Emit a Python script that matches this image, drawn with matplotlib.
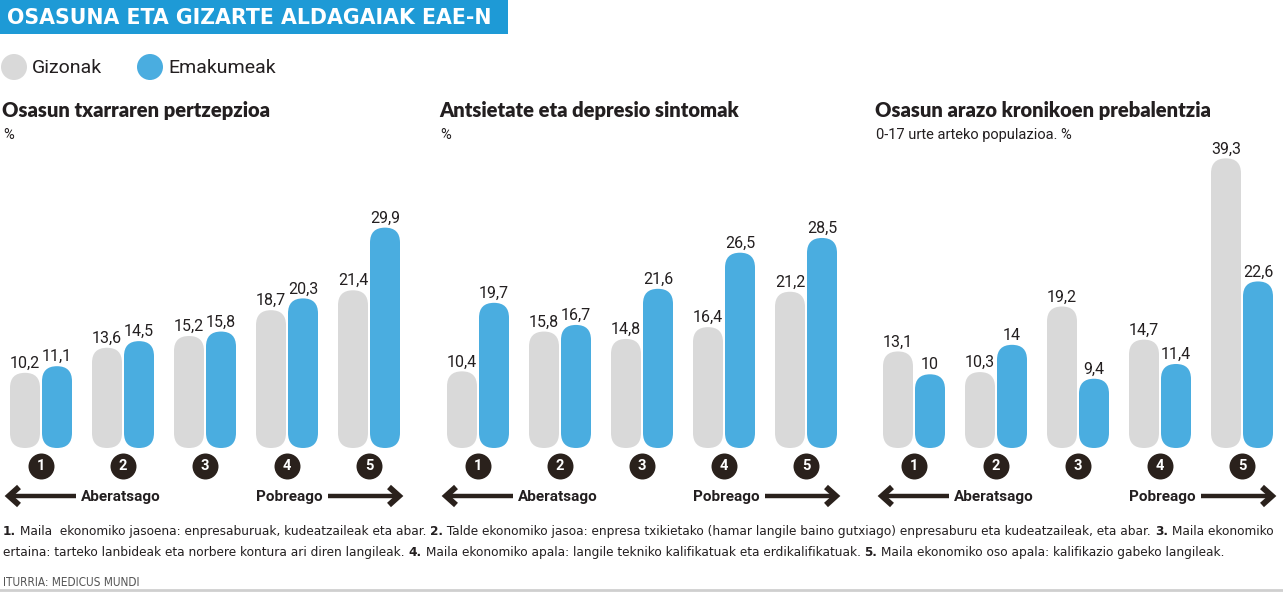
import matplotlib
matplotlib.use('Agg')
import matplotlib.pyplot as plt
from matplotlib.patches import FancyBboxPatch, Rectangle, Circle
from matplotlib import font_manager as fm

# ---------------- data ----------------
title = 'OSASUNA ETA GIZARTE ALDAGAIAK EAE-N'
series_names = ['Gizonak', 'Emakumeak']
categories = ['1', '2', '3', '4', '5']
panel_titles = ['Osasun txarraren pertzepzioa',
                'Antsietate eta depresio sintomak',
                'Osasun arazo kronikoen prebalentzia']
panel_subtitles = ['%', '%', '0-17 urte arteko populazioa. %']
gizonak_1 = [10.2, 13.6, 15.2, 18.7, 21.4]
emakumeak_1 = [11.1, 14.5, 15.8, 20.3, 29.9]
gizonak_2 = [10.4, 15.8, 14.8, 16.4, 21.2]
emakumeak_2 = [19.7, 16.7, 21.6, 26.5, 28.5]
gizonak_3 = [13.1, 10.3, 19.2, 14.7, 39.3]
emakumeak_3 = [10, 14, 9.4, 11.4, 22.6]
arrow_labels = ['Aberatsago', 'Pobreago']
footnote_1 = [('1.', True), (' Maila  ekonomiko jasoena: enpresaburuak, kudeatzaileak eta abar. ', False),
              ('2.', True), (' Talde ekonomiko jasoa: enpresa txikietako (hamar langile baino gutxiago) enpresaburu eta kudeatzaileak, eta abar. ', False),
              ('3.', True), (' Maila ekonomiko', False)]
footnote_2 = [('ertaina: tarteko lanbideak eta norbere kontura ari diren langileak. ', False),
              ('4.', True), (' Maila ekonomiko apala: langile tekniko kalifikatuak eta erdikalifikatuak. ', False),
              ('5.', True), (' Maila ekonomiko oso apala: kalifikazio gabeko langileak.', False)]
source = 'ITURRIA: MEDICUS MUNDI'

GREY = '#d9d9d9'
BLUE = '#4aade0'
DARK = '#2a211c'
TITLEBLUE = '#1e9ad6'
TXT = '#231f20'


def has_font(name):
    try:
        fm.findfont(fm.FontProperties(family=name), fallback_to_default=False)
        return True
    except Exception:
        return False

NARROW = 'Liberation Sans Narrow' if has_font('Liberation Sans Narrow') else 'DejaVu Sans'
NSTRETCH = 'normal' if NARROW == 'Liberation Sans Narrow' else 'condensed'

W, H = 1283, 592
fig = plt.figure(figsize=(W / 100, H / 100), dpi=100)
fig.patch.set_facecolor('white')

# overlay axes in pixel coordinates for layout decorations
lay = fig.add_axes([0, 0, 1, 1])
lay.set_xlim(0, W)
lay.set_ylim(H, 0)
lay.axis('off')

# title box
lay.add_patch(Rectangle((0, 0), 508, 34, color=TITLEBLUE, lw=0))
lay.text(7, 18, title, color='white', fontsize=14.8, fontweight='bold',
         family='DejaVu Sans', va='center', ha='left')

# legend
for cx, col, name in [(14, GREY, series_names[0]), (150, BLUE, series_names[1])]:
    lay.add_patch(Circle((cx, 67), 13, color=col, lw=0))
    lay.text(cx + 18, 68, name, fontsize=14, family='Roboto', color=TXT,
             va='center', ha='left')

panels = [(gizonak_1, emakumeak_1), (gizonak_2, emakumeak_2), (gizonak_3, emakumeak_3)]
lefts = [0, 437, 873]
AX_TOP, AX_H, AX_W = 148, 300, 410
PX_PER_UNIT = 7.37
YMAX = AX_H / PX_PER_UNIT
xpx = AX_W / len(categories)
aspect = xpx / PX_PER_UNIT
bw = 30 / xpx
off = 16 / xpx


def fmt(v):
    return ('%g' % v).replace('.', ',')

for p, (g, e) in enumerate(panels):
    L = lefts[p]
    ax = fig.add_axes([L / W, 1 - (AX_TOP + AX_H) / H, AX_W / W, AX_H / H])
    ax.set_xlim(-0.5, len(categories) - 0.5)
    ax.set_ylim(0, YMAX)
    ax.axis('off')
    for i, cat in enumerate(categories):
        for vals, col, sgn in [(g, GREY, -1), (e, BLUE, 1)]:
            v = vals[i]
            x = i + sgn * off
            ax.add_patch(FancyBboxPatch((x - bw / 2, 0), bw, v,
                                        boxstyle='round,pad=0,rounding_size=%f' % (bw / 2),
                                        mutation_aspect=aspect, fc=col, ec='none'))
            ax.text(x, v + 5 / PX_PER_UNIT, fmt(v), ha='center', va='baseline',
                    fontsize=11.5, family='Roboto', color=TXT)
        ax.scatter([i], [-18 / PX_PER_UNIT], s=350, color=DARK, clip_on=False, lw=0)
        ax.text(i, -18.5 / PX_PER_UNIT, cat, color='white', fontsize=10.5, fontweight='bold',
                family='Roboto', ha='center', va='center', clip_on=False)

    # titles
    lay.text(L + 2, 110, panel_titles[p], fontsize=14.5, fontweight='heavy', family='Lato',
             color=TXT, va='center', ha='left')
    lay.text(L + 3, 135, panel_subtitles[p], fontsize=10.5, family='Roboto', color=TXT,
             va='center', ha='left')

    # arrows
    y = 496
    lay.plot([L + 10, L + 76], [y, y], color=DARK, lw=3.2, solid_capstyle='butt')
    lay.plot([L + 19, L + 9, L + 19], [y - 9, y, y + 9], color=DARK, lw=4.2,
             solid_joinstyle='miter', solid_capstyle='butt')
    lay.text(L + 81, y + 1, arrow_labels[0], fontsize=11, fontweight='semibold',
             family='Roboto', color=TXT, va='center', ha='left')
    lay.plot([L + 328, L + 398], [y, y], color=DARK, lw=3.2, solid_capstyle='butt')
    lay.plot([L + 389, L + 399, L + 389], [y - 9, y, y + 9], color=DARK, lw=4.2,
             solid_joinstyle='miter', solid_capstyle='butt')
    lay.text(L + 323, y + 1, arrow_labels[1], fontsize=11, fontweight='semibold',
             family='Roboto', color=TXT, va='center', ha='right')

# footnotes
fig.canvas.draw()
renderer = fig.canvas.get_renderer()


def rich_line(segments, x0, y, fs, draw=True):
    x = x0
    arts = []
    for s, bold in segments:
        t = lay.text(x, y, s, fontsize=fs, family=NARROW, fontstretch=NSTRETCH,
                     fontweight='bold' if bold else 'normal', color=TXT,
                     va='baseline', ha='left')
        bb = t.get_window_extent(renderer)
        x += bb.width
        arts.append(t)
    if not draw:
        for t in arts:
            t.remove()
    return x - x0

w1 = rich_line(footnote_1, 3, 535, 10, draw=False)
fs = min(10.5, 10 * 1270 / w1)
rich_line(footnote_1, 3, 535, fs)
rich_line(footnote_2, 3, 556, fs)
lay.text(3, 582, source, fontsize=8.5, family=NARROW, fontstretch=NSTRETCH,
         color='#555555', va='center', ha='left')
lay.plot([0, W], [590, 590], color='#cfcfcf', lw=2)

fig.savefig('out.png', dpi=100, facecolor='white')
